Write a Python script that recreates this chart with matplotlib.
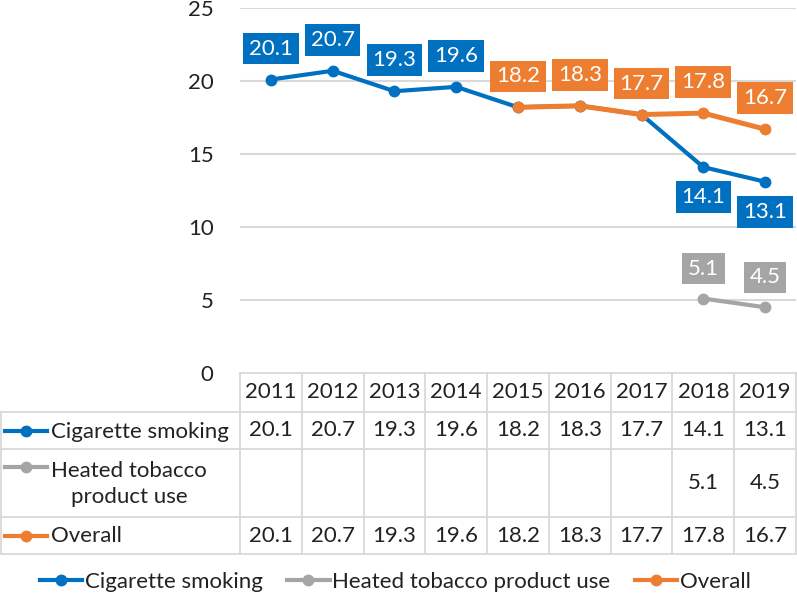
import matplotlib
matplotlib.use("Agg")
import matplotlib.pyplot as plt
from matplotlib.lines import Line2D

plt.rcParams['font.family'] = ['Lato', 'DejaVu Sans']

# ---- data ----
years = ['2011', '2012', '2013', '2014', '2015', '2016', '2017', '2018', '2019']
cigarette = [20.1, 20.7, 19.3, 19.6, 18.2, 18.3, 17.7, 14.1, 13.1]
heated = [None, None, None, None, None, None, None, 5.1, 4.5]
overall = [20.1, 20.7, 19.3, 19.6, 18.2, 18.3, 17.7, 17.8, 16.7]
series_names = ['Cigarette smoking', 'Heated tobacco product use', 'Overall']
row_labels = ['Cigarette smoking', 'Heated tobacco\nproduct use', 'Overall']

# which points carry a data label (and where)
cig_lab_up = [0, 1, 2, 3]
cig_lab_down = [7, 8]
ovr_start = 4          # overall line shown from 2015 on
heat_lab_up = [7, 8]

COL = {'cig': '#0070C0', 'heat': '#A5A5A5', 'ovr': '#ED7D31'}
GRID = '#D9D9D9'
TXT = '#222222'
FS = 16

W, H = 797, 598
fig = plt.figure(figsize=(W / 100, H / 100), dpi=100)

# ---- main chart ----
px0, px1, py_top, py_bot = 240, 796, 8, 373
ax = fig.add_axes([px0 / W, 1 - py_bot / H, (px1 - px0) / W, (py_bot - py_top) / H])
x = list(range(len(years)))
ax.set_xlim(-0.5, len(years) - 0.5)
ax.set_ylim(0, 25)
ax.set_yticks([0, 5, 10, 15, 20, 25])
ax.tick_params(axis='y', length=0, pad=19, labelsize=FS, labelcolor=TXT)
ax.set_xticks([])
for s in ax.spines.values():
    s.set_visible(False)
for v in [5, 10, 15, 20, 25]:
    ax.axhline(v, color=GRID, lw=1.5, zorder=0)

lkw = dict(marker='o', ms=7.5, solid_capstyle='round')
ax.plot(x, cigarette, color=COL['cig'], lw=3, zorder=3, **lkw)
hx = [i for i, v in enumerate(heated) if v is not None]
ax.plot(hx, [heated[i] for i in hx], color=COL['heat'], lw=3, zorder=3, **lkw)
ax.plot(x[ovr_start:], overall[ovr_start:], color=COL['ovr'], lw=3.6, zorder=4, **lkw)


def label(i, val, color, dy):
    ax.annotate(f"{val:.1f}", (i, val), xytext=(0, dy), textcoords='offset pixels',
                ha='center', va='center', color='white', fontsize=FS, zorder=6,
                bbox=dict(boxstyle='square,pad=0.26', fc=color, ec='none'))


for i in cig_lab_up:
    label(i, cigarette[i], COL['cig'], 31)
for i in cig_lab_down:
    label(i, cigarette[i], COL['cig'], -30)
for i in range(ovr_start, len(years)):
    label(i, overall[i], COL['ovr'], 31)
for i in heat_lab_up:
    label(i, heated[i], COL['heat'], 30)

# ---- data table ----
t_bot = 554
tab = fig.add_axes([0, 1 - t_bot / H, px1 / W, (t_bot - py_bot) / H])
cw = (px1 - px0) / len(years)
xl = -0.5 - px0 / cw
xr = len(years) - 0.5
tab.set_xlim(xl, xr)
tab.set_ylim(t_bot - py_bot, 0)
tab.axis('off')
rows = [0, 39, 76, 144, 181]
lc = dict(color=GRID, lw=1.3, clip_on=False)
tab.plot([-0.5, xr], [0, 0], **lc)
for r in rows[1:]:
    tab.plot([xl + 0.02, xr], [r, r], **lc)
for k in range(len(years) + 1):
    tab.plot([-0.5 + k, -0.5 + k], [0, rows[-1]], **lc)
tab.plot([xl + 0.02, xl + 0.02], [rows[1], rows[-1]], **lc)

hy = (rows[0] + rows[1]) / 2
for i, yr in enumerate(years):
    tab.text(i, hy, yr, ha='center', va='center', fontsize=FS, color=TXT)

row_data = [cigarette, heated, overall]
row_cols = [COL['cig'], COL['heat'], COL['ovr']]
for r, (vals, col, lab) in enumerate(zip(row_data, row_cols, row_labels)):
    yc = (rows[r + 1] + rows[r + 2]) / 2
    for i, v in enumerate(vals):
        if v is not None:
            tab.text(i, yc, f"{v:.1f}", ha='center', va='center', fontsize=FS, color=TXT)
    ky = yc if '\n' not in lab else rows[r + 1] + 18
    tab.plot([xl + 5 / cw, xl + 47 / cw], [ky, ky], color=col, lw=3, clip_on=False)
    tab.plot([xl + 26 / cw], [ky], color=col, marker='o', ms=7.5, clip_on=False)
    tab.text(xl + 51 / cw, yc + 1, lab, ha='left', va='center', fontsize=FS, color=TXT,
             multialignment='center', linespacing=1.4)

# ---- legend ----
handles = [Line2D([0], [0], color=c, lw=3, marker='o', ms=7.5) for c in row_cols]
fig.legend(handles, series_names, loc='center', bbox_to_anchor=(0.496, 1 - 582 / H),
           ncol=3, frameon=False, fontsize=FS, handlelength=1.9, handletextpad=0.12,
           columnspacing=1.1, labelcolor=TXT)

fig.savefig('out.png', dpi=100)
